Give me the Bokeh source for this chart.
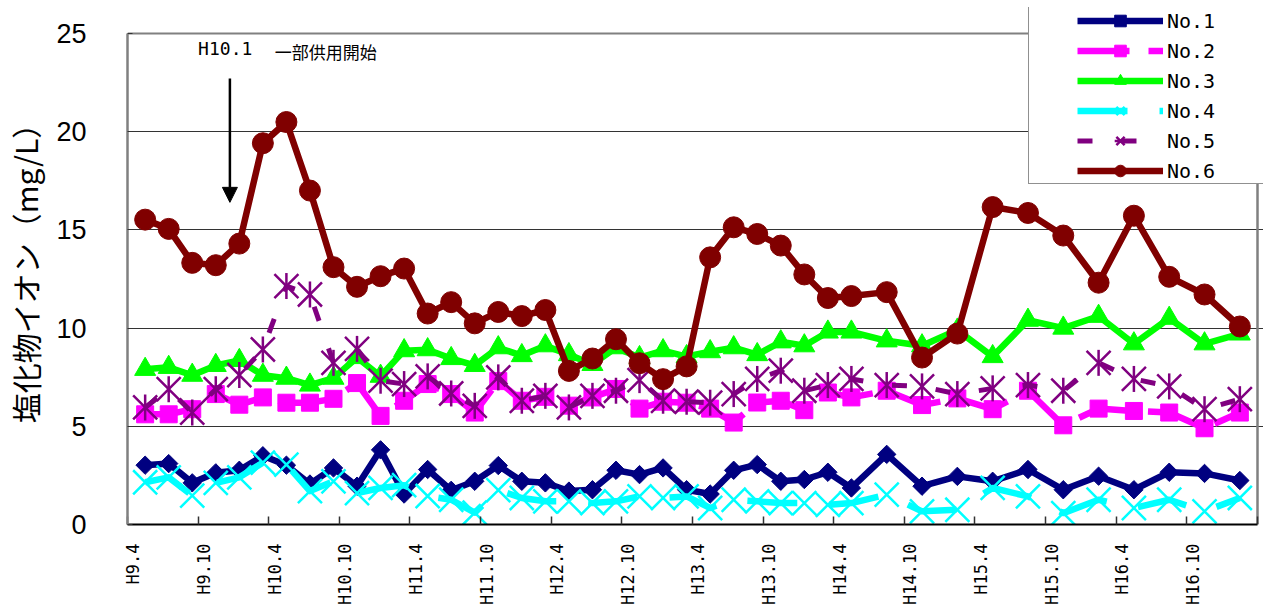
import math
from bokeh.plotting import figure
from bokeh.models import (Range1d, FixedTicker, CustomJSTickFormatter, Legend,
                          LegendItem, Label, Arrow, NormalHead, Grid)
from bokeh.embed import file_html
from bokeh.resources import INLINE

# sampling month, counted from H9.4 (April 1997 = 0)
sample_month = [1, 3, 5, 7, 9, 11, 13, 15, 17, 19, 21, 23, 25, 27, 29, 31, 33, 35,
                37, 39, 41, 43, 45, 47, 49, 51, 53, 55, 57, 59, 61,
                64, 67, 70, 73, 76, 79, 82, 85, 88, 91, 94]

no1 = [3.02, 3.1, 2.12, 2.63, 2.76, 3.5, 3.02, 2.06, 2.88, 1.95, 3.8, 1.55,
       2.8, 1.74, 2.2, 3.0, 2.2, 2.12, 1.7, 1.77, 2.76, 2.54, 2.88, 1.77,
       1.55, 2.76, 3.05, 2.2, 2.29, 2.66, 1.86, 3.57, 1.95, 2.45,
       2.2, 2.8, 1.77, 2.46, 1.77, 2.66, 2.6, 2.24]
no2 = [5.61, 5.61, 5.87, 6.64, 6.1, 6.47, 6.2, 6.2, 6.4, 7.2, 5.53, 6.3,
       7.15, 6.64, 5.7, 7.3, 6.3, 6.5, 6.05, 6.47, 6.9, 5.9, 6.25, 6.2,
       5.9, 5.19, 6.21, 6.3, 5.82, 6.72, 6.47, 6.81, 6.08, 6.42,
       5.87, 6.81, 5.05, 5.9, 5.78, 5.7, 4.9, 5.7]
no3 = [7.9, 8.0, 7.6, 8.1, 8.35, 7.6, 7.45, 7.1, 7.45, 8.5, 7.55, 8.85,
       8.9, 8.45, 8.1, 9.0, 8.6, 9.1, 8.65, 8.15, 9.0, 8.5, 8.85, 8.55,
       8.8, 9.0, 8.65, 9.3, 9.1, 9.8, 9.8, 9.35, 9.1, 9.9,
       8.55, 10.4, 10.0, 10.6, 9.2, 10.5, 9.2, 9.7]
no4 = [2.15, 2.4, 1.47, 2.12, 2.4, 3.15, 3.05, 1.7, 2.2, 1.6, 1.86, 2.0,
       1.45, 1.26, 0.6, 1.75, 1.35, 1.18, 1.18, 1.09, 1.18, 1.43, 1.35, 1.43,
       0.84, 1.26, 1.18, 1.09, 1.09, 1.0, 1.09, 1.52, 0.67, 0.75,
       1.86, 1.43, 0.58, 1.26, 0.84, 1.26, 0.67, 1.35]
no5 = [5.96, 6.89, 5.7, 6.89, 7.61, 8.91, 12.14, 11.71, 8.23, 8.94, 7.32, 7.15,
       7.54, 6.67, 6.04, 7.49, 6.3, 6.55, 5.96, 6.55, 6.81, 7.35, 6.3, 6.25,
       6.2, 6.64, 7.41, 7.83, 6.81, 7.1, 7.41, 7.1, 7.03, 6.64,
       6.93, 7.1, 6.81, 8.23, 7.41, 7.03, 5.87, 6.38]
no6 = [15.52, 15.05, 13.32, 13.2, 14.3, 19.41, 20.49, 17.0, 13.1, 12.1, 12.64, 13.03,
       10.74, 11.32, 10.24, 10.82, 10.61, 10.92, 7.82, 8.45, 9.43, 8.21, 7.40, 8.05,
       13.6, 15.13, 14.79, 14.2, 12.73, 11.53, 11.63, 11.83, 8.5, 9.72,
       16.16, 15.86, 14.71, 12.31, 15.72, 12.61, 11.71, 10.08]

series_names = ["No.1", "No.2", "No.3", "No.4", "No.5", "No.6"]

tick_months = [0, 6, 12, 18, 24, 30, 36, 42, 48, 54, 60, 66, 72, 78, 84, 90]
tick_labels = ["H9.4", "H9.10", "H10.4", "H10.10", "H11.4", "H11.10", "H12.4", "H12.10",
               "H13.4", "H13.10", "H14.4", "H14.10", "H15.4", "H15.10", "H16.4", "H16.10"]
axis_end_month = 96
y_ticks = [0, 5, 10, 15, 20, 25]
y_max = 25

arrow_month = 8.7          # H10.1 start of partial operation
arrow_top, arrow_bottom = 22.7, 16.4

# points sit in the middle of their month slot
xs = [m + 0.5 for m in sample_month]

# the drawing area is a little larger than the axes so that the legend,
# which overlaps the top-right corner, is not clipped
p = figure(width=1263, height=607, output_backend="svg", toolbar_location=None,
           x_range=Range1d(0, 96.51), y_range=Range1d(0, 26.32),
           min_border_left=127, min_border_right=0, min_border_top=7, min_border_bottom=81)
p.background_fill_color = "white"
p.border_fill_color = "white"
p.outline_line_color = None

# x axis
xa = p.xaxis[0]
xa.bounds = (0, axis_end_month)
xa.ticker = FixedTicker(ticks=[m + 0.5 for m in tick_months],
                        minor_ticks=tick_months + [axis_end_month])
xa.formatter = CustomJSTickFormatter(args=dict(labels=tick_labels), code="""
    const i = Math.round((tick - 0.5) / 6);
    return (i >= 0 && i < labels.length) ? labels[i] : "";
""")
xa.major_tick_line_color = None
xa.minor_tick_in = 8
xa.minor_tick_out = 0
xa.minor_tick_line_color = "#333333"
xa.minor_tick_line_width = 1.5
xa.axis_line_color = "#000000"
xa.axis_line_width = 2
xa.major_label_orientation = math.pi / 2
xa.major_label_text_font = "DejaVu Sans Mono"
xa.major_label_text_font_size = "17px"
xa.major_label_text_color = "#000000"
xa.major_label_standoff = 13

# y axis
ya = p.yaxis[0]
ya.bounds = (0, y_max)
ya.ticker = FixedTicker(ticks=y_ticks)
ya.major_tick_in = 5
ya.major_tick_out = 0
ya.major_tick_line_color = "#333333"
ya.minor_tick_line_color = None
ya.axis_line_color = "#808080"
ya.axis_line_width = 2.5
ya.major_label_text_font = "Liberation Sans"
ya.major_label_text_font_size = "27px"
ya.major_label_text_color = "#000000"
ya.major_label_standoff = 41
ya.axis_label = "塩化物イオン（mg/L）"
ya.axis_label_text_font = "Noto Sans CJK JP"
ya.axis_label_text_font_size = "30px"
ya.axis_label_text_font_style = "normal"
ya.axis_label_text_color = "#000000"
ya.axis_label_standoff = 6

p.xgrid.visible = False
p.ygrid.ticker = FixedTicker(ticks=y_ticks[1:-1])
p.ygrid.bounds = (0, axis_end_month)
p.ygrid.grid_line_color = "#333333"
p.ygrid.grid_line_width = 1
# top and right borders of the plot area
p.add_layout(Grid(dimension=1, ticker=FixedTicker(ticks=[y_max]), bounds=(0, axis_end_month),
                  grid_line_color="#808080", grid_line_width=2))
p.add_layout(Grid(dimension=0, ticker=FixedTicker(ticks=[axis_end_month]), bounds=(0, y_max),
                  grid_line_color="#808080", grid_line_width=2.5))

items = []

def add_series(name, ys, color, width, dash, markers):
    rs = [p.line(xs, ys, line_color=color, line_width=width, line_dash=dash,
                 line_join="round", line_cap="butt")]
    for mk in markers:
        rs.append(p.scatter(xs, ys, **mk))
    items.append(LegendItem(label=name, renderers=rs))

add_series("No.1", no1, "#000080", 6.5, "solid",
           [dict(marker="square", angle=math.pi / 4, size=13, fill_color="#000080",
                 line_color="#000080")])
add_series("No.2", no2, "#FF00FF", 6.5, "52 19",
           [dict(marker="square", size=17, fill_color="#FF00FF", line_color="#FF00FF")])
add_series("No.3", no3, "#00FF00", 6.5, "solid",
           [dict(marker="triangle", size=21, fill_color="#00FF00", line_color="#00FF00")])
add_series("No.4", no4, "#00FFFF", 6.5, "50 32",
           [dict(marker="x", size=34, line_color="#00FFFF", line_width=2.5)])
add_series("No.5", no5, "#800080", 5, "15 29",
           [dict(marker="x", size=34, line_color="#800080", line_width=2.5),
            dict(marker="dash", angle=math.pi / 2, size=26, line_color="#800080", line_width=2.5)])
add_series("No.6", no6, "#800000", 6.5, "solid",
           [dict(marker="circle", size=21, fill_color="#800000", line_color="#800000")])

# legend box (frame only) and legend entries
dummy = p.scatter([0], [0], size=0, fill_alpha=0, line_alpha=0)
box = Legend(items=[LegendItem(label=" ", renderers=[dummy]) for _ in series_names],
             location=(901, 340), padding=1, margin=0, spacing=0,
             glyph_width=206, glyph_height=29, label_height=29,
             label_width=26, label_standoff=0,
             border_line_color="#222222", border_line_width=1.5,
             background_fill_color="white", background_fill_alpha=1.0)
p.add_layout(box)

leg = Legend(items=items, location=(950, 339), padding=0, margin=0, spacing=1,
             glyph_width=86, glyph_height=29, label_height=29, label_standoff=4,
             label_text_font="DejaVu Sans Mono", label_text_font_size="20px",
             label_text_color="#000000", border_line_color=None,
             background_fill_alpha=0)
p.add_layout(leg)

# annotation: H10.1 start of partial operation
p.add_layout(Arrow(end=NormalHead(size=15, fill_color="black", line_color="black"),
                   x_start=arrow_month, y_start=arrow_top, x_end=arrow_month, y_end=arrow_bottom,
                   line_color="black", line_width=2.5))
p.add_layout(Label(x=6.0, y=24.75, text="H10.1", text_font="DejaVu Sans Mono",
                   text_font_size="18px", text_baseline="top", text_color="#000000"))
p.add_layout(Label(x=12.5, y=24.7, text="一部供用開始", text_font="Noto Sans CJK JP",
                   text_font_size="17px", text_baseline="top", text_color="#000000"))

open("out.html", "w").write(file_html(p, INLINE))
